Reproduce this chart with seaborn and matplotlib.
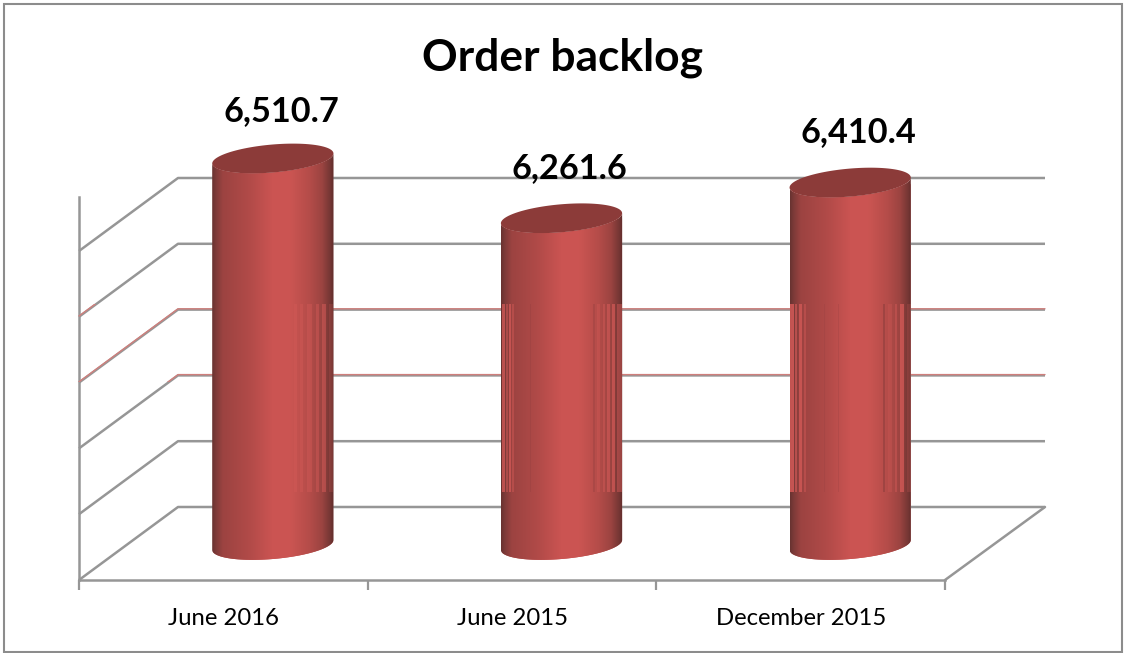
import numpy as np
import pandas as pd
import matplotlib
matplotlib.use("Agg")
import matplotlib.pyplot as plt
import seaborn as sns
from matplotlib.patches import PathPatch, Rectangle
from matplotlib.path import Path
from matplotlib.transforms import Affine2D

# === Chart values ===
periods = ["June 2016", "June 2015", "December 2015"]
backlog = [6510.7, 6261.6, 6410.4]
value_labels = ["6,510.7", "6,261.6", "6,410.4"]
label_nudge = [0, 3, 4]

W, H = 1124, 653
FONT = ["Lato", "DejaVu Sans"]
GREY = "#969696"
BASE = 4900
TOP = 7317

# colour stops across a cylinder, left to right
stops = [0.0, 0.03, 0.09, 0.3, 0.5, 0.64, 0.8, 0.9, 0.97, 1.0]
stop_colors = np.array([
    [0x66, 0x32, 0x30], [0x7c, 0x3a, 0x38], [0x9c, 0x43, 0x41], [0xb0, 0x4a, 0x48], [0xcb, 0x54, 0x52],
    [0xcb, 0x55, 0x52], [0xb4, 0x4c, 0x49], [0x9c, 0x44, 0x41], [0x74, 0x36, 0x34], [0x5e, 0x2c, 0x2a],
]) / 255

# the scan artefacts across the cylinders: (from, to, lighten) in pixels from the bar's left edge
stripes = [
    [(81, 84, .3), (87, 90, .3), (94, 99, .35), (103, 106, .4), (109, 113, .5), (116, 120, .2)],
    [(1, 4, .7), (5, 7, .45), (8, 10, .7), (11, 13, .4), (29, 30, -.15),
     (91, 93, -.2), (95, 98, .3), (101, 103, .4), (105, 108, .55), (110, 113, .65), (115, 120, .45)],
    [(0, 4, .8), (5, 7, .6), (9, 12, .7), (14, 16, .4), (34, 35, -.12), (48, 49, -.15),
     (92, 94, -.35), (97, 101, .25), (104, 106, .4), (109, 113, .7), (116, 120, .2)],
]

# === Setup ===
sns.set_theme(style="white")
plt.rcParams["font.family"] = FONT

df = pd.DataFrame({"period": periods, "backlog": backlog})

fig = plt.figure(figsize=(W / 100, H / 100), dpi=100, facecolor="white")
ax = fig.add_axes([0, 73 / H, 1, 580 / H])

sns.barplot(data=df, x="period", y="backlog", order=periods, color="#c0504d",
            saturation=1, width=0.42, ax=ax)

ax.set_xlim(-0.5 - 79 / 288.67, -0.5 + (W - 79) / 288.67)
ax.set_ylim(BASE, TOP)
ax.set_xlabel("")
ax.set_ylabel("")
ax.set_yticks([])
ax.set_xticks([-0.5, 0.5, 1.5, 2.5], minor=True)
ax.tick_params(axis="x", which="major", length=0, pad=20, labelsize=17.2, colors="black")
ax.tick_params(axis="x", which="minor", length=7.5, width=1.6, color=GREY, bottom=True)
sns.despine(ax=ax, top=True, right=True)
for side in ["left", "bottom"]:
    ax.spines[side].set_color(GREY)
    ax.spines[side].set_linewidth(1.8)
ax.spines["bottom"].set_bounds(-0.5, 2.5)
ax.spines["left"].set_position(("data", -0.5))
ax.spines["left"].set_bounds(BASE, BASE + 383 / 0.24)

# pixel overlay for the 3D walls and the cylinder shading
over = fig.add_axes([0, 0, 1, 1], zorder=2)
over.set_axis_off()
over.patch.set_alpha(0)

DX, DY = 99, 73
band_clip = Rectangle((0, 304), W, 78, transform=over.transData)
for row in range(6):
    y = 507 - row * 65.8
    xs = [79, 178, 1045]
    ys = [y + DY, y, y]
    over.plot(xs, ys, color=GREY, lw=1.8, zorder=1, solid_capstyle="butt")
    tint, = over.plot(xs, np.array(ys) - 0.8, color="#d07f7c", lw=1.0, zorder=1.1)
    tint.set_clip_path(band_clip)
over.plot([945, 1045], [580, 507], color=GREY, lw=1.8, zorder=1)

# outer frame of the picture
over.add_patch(Rectangle((4, 4), 1118, 648, fill=False, ec="#8c8c8c", lw=1.5, zorder=1))

# === Cylinders, placed from the bars seaborn drew ===
depth = ax.transData + Affine2D().translate(DX / 2, 35)
t = np.linspace(0, np.pi, 60)
for bar, bar_stripes in zip(ax.containers[0], stripes):
    (left, base_y), (right, top_y) = depth.transform(
        [(bar.get_x(), BASE), (bar.get_x() + bar.get_width(), bar.get_height())])
    base_y, top_y = H - base_y, H - top_y
    cx, half = (left + right) / 2, (right - left) / 2

    # front arcs run from right edge to left edge, sheared so the right side sits higher
    arc_x = cx + half * np.cos(t)
    arc_y = -5 * np.cos(t) + 14 * np.sin(t)

    outline = np.column_stack([
        np.r_[arc_x, arc_x[::-1]],
        np.r_[base_y + arc_y, top_y + arc_y[::-1]],
    ])
    body = PathPatch(Path(np.vstack([outline, outline[:1]])), transform=over.transData,
                     fc="none", ec="none")
    over.add_patch(body)

    bar.set_transform(depth)
    bar.set_clip_path(body)

    columns = int(round(right - left))
    u = (np.arange(columns) + 0.5) / columns
    row_colors = np.column_stack([np.interp(u, stops, stop_colors[:, c]) for c in range(3)])
    striped = row_colors.copy()
    for start, stop, mix in bar_stripes:
        target = np.array([0.85, 0.36, 0.35]) if mix > 0 else np.array([0.45, 0.2, 0.2])
        striped[start:stop] += abs(mix) * (target - striped[start:stop])

    rows_top = int(top_y - 16)
    rows_bottom = int(base_y + 18)
    image = np.repeat(row_colors[None, :, :], rows_bottom - rows_top, axis=0)
    image[304 - rows_top:492 - rows_top] = striped[None, :, :]
    im = over.imshow(image, extent=(left, right, rows_bottom, rows_top), aspect="auto",
                     interpolation="nearest", zorder=3)
    im.set_clip_path(body)

    # lid
    ring = np.linspace(0, 2 * np.pi, 120)
    lid_xy = np.column_stack([cx + half * np.cos(ring),
                              top_y - 5 * np.cos(ring) + 14 * np.sin(ring)])
    lid = PathPatch(Path(lid_xy), transform=over.transData, fc="#8c3b39", ec="none")
    over.add_patch(lid)
    lid.set_zorder(4)

over.set_xlim(0, W)
over.set_ylim(H, 0)

# === Text ===
for i, (value, text, nudge) in enumerate(zip(backlog, value_labels, label_nudge)):
    over.annotate(text, xy=(i, value), xycoords=ax.transData, xytext=(41.5, 59 + nudge * 0.72),
                  textcoords="offset points", ha="center", va="center", fontsize=24.7,
                  fontweight="bold", color="black", zorder=5)

fig.text(563 / W, 1 - 58 / H, "Order backlog", ha="center", va="center",
         fontsize=31.9, fontweight="bold", color="black")

plt.savefig("out.png", dpi=100)
